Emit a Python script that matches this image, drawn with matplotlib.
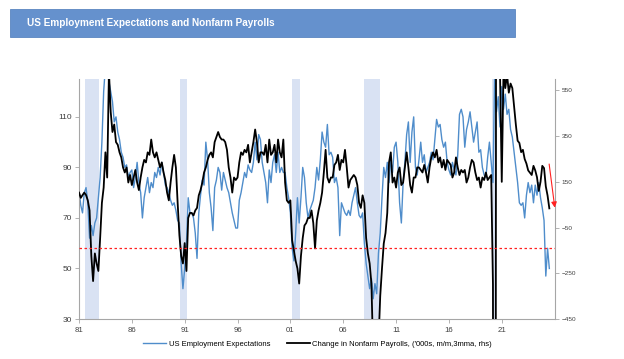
import matplotlib
matplotlib.use('Agg')
import matplotlib.pyplot as plt
from matplotlib.patches import Rectangle
import numpy as np

plt.rcParams['font.family'] = ['Liberation Sans', 'DejaVu Sans']

# bi-monthly readings (Jan, Mar, May, Jul, Sep, Nov), Jan 1981 .. Jul 2025
expect = [
    81, 75, 72, 80, 82, 76,      # 81
    62, 67, 63, 68, 70, 78,
    86, 100, 120, 130, 128, 124,
    120, 116, 108, 110, 104, 101,
    96, 94, 90, 91, 86, 88,      # 85
    89, 82, 86, 92, 84, 80,
    70, 78, 82, 86, 80, 84,
    82, 88, 86, 90, 87, 92,
    88, 83, 82, 80, 77, 75,
    76, 73, 69, 68, 52, 42,      # 90
    50, 60, 78, 72, 72, 70,
    64, 54, 72, 79, 85, 83,
    100, 93, 80, 74, 65, 82,
    85, 90, 88, 81, 88, 85,
    82, 80, 76, 72, 69, 66,      # 95
    66, 77, 80, 84, 88, 86,
    91, 89, 88, 92, 100, 93,
    103, 101, 92, 88, 84, 76,
    89, 84, 92, 95, 88, 96,
    88, 90, 88, 88, 82, 78,      # 00
    72, 58, 53, 64, 78, 68,
    78, 90, 86, 76, 70, 73,
    75, 77, 82, 90, 85, 93,
    104, 100, 98, 107, 95, 96,
    94, 84, 86, 82, 63, 76,      # 05
    74, 72, 71, 73, 71, 76,
    79, 82, 76, 71, 70, 72,
    60, 52, 47, 42, 46, 38,
    44, 40, 56, 64, 78, 90,
    86, 92, 84, 93, 88, 98,      # 10
    100, 92, 76, 68, 84, 92,
    103, 108, 92, 104, 110, 90,
    87, 93, 100, 92, 95, 88,
    90, 92, 96, 93, 101, 109,
    106, 107, 101, 98, 100, 92,  # 15
    89, 87, 92, 89, 87, 95,
    111, 113, 110, 98, 105, 108,
    112, 106, 100, 104, 108, 96,
    97, 90, 87, 86, 94, 100,
    92, 84, 128, 112, 118, 106,  # 20
    122, 113, 119, 111, 113, 105,
    102, 96, 90, 84, 76, 75,
    76, 70, 79, 84, 80, 83,
    76, 83, 79, 84, 78, 74,
    69, 47, 58, 50,              # 25
]

payrolls = [
    103, 80, 92, 103, 92, 69,            # 81
    25, -174, -284, -163, -207, -240,
    -96, 58, 125, 279, 169, 633,
    456, 368, 401, 324, 312, 279,
    257, 213, 191, 213, 147, 180,        # 85
    136, 169, 202, 147, 114, 169,
    213, 246, 235, 279, 268, 335,
    279, 257, 279, 246, 213, 235,
    191, 158, 103, 69, 147, 213,
    268, 213, 58, -84, -174, -207,       # 90
    -118, -240, -8, 14, 14, 3,
    25, 36, 91, 114, 147, 191,
    213, 246, 268, 279, 257, 324,
    346, 368, 346, 335, 335, 324,
    290, 213, 169, 103, 169, 158,        # 95
    169, 235, 279, 268, 290, 279,
    312, 235, 279, 324, 379, 324,
    235, 279, 279, 268, 312, 235,
    335, 268, 279, 312, 235, 335,
    279, 257, 335, 147, 69, 58,          # 00
    69, -106, -152, -196, -229, -295,
    -174, -96, -41, -30, -8, -8,
    25, -30, -141, -19, 25, 58,
    103, 191, 290, 169, 147, 169,
    169, 224, 235, 268, 202, 246,        # 05
    235, 290, 213, 125, 158, 169,
    180, 169, 136, 58, 36, 91,
    58, -96, -163, -207, -295, -600,
    -720, -760, -560, -350, -229, -120,
    -74, 14, 235, 279, 147, 169,         # 10
    125, 191, 213, 136, 147, 213,
    279, 213, 136, 103, 169, 169,
    213, 213, 202, 191, 224, 191,
    147, 213, 257, 279, 257, 290,
    235, 257, 213, 246, 202, 246,        # 15
    235, 224, 169, 191, 257, 213,
    180, 202, 191, 202, 147, 169,
    213, 246, 235, 191, 158, 169,
    125, 169, 158, 191, 158, 169,
    180, -300, -6300, 3100, 1340, 630,   # 20
    150, 640, 560, 620, 540, 580,
    560, 480, 400, 330, 320, 280,
    290, 250, 230, 200, 190, 180,
    220, 200, 170, 110, 150, 220,
    210, 130, 90, 34,                    # 25
]

recessions = [(1981.55, 1982.92), (1990.55, 1991.25), (2001.2, 2001.9),
              (2007.95, 2009.48), (2020.1, 2020.35)]
year_ticks = [1981, 1986, 1991, 1996, 2001, 2006, 2011, 2016, 2021]
year_labels = ['81', '86', '91', '96', '01', '06', '11', '16', '21']
left_ticks = [30, 50, 70, 90, 110]
right_ticks = [-450, -250, -50, 150, 350, 550]
threshold = 58.3

t = 1981 + np.arange(len(expect)) / 6.0

fig = plt.figure(figsize=(6.24, 3.59), dpi=100)

# title bar
fig.patches.append(Rectangle((0.016, 0.898), 0.809, 0.0763, transform=fig.transFigure,
                             facecolor='#6591CD', edgecolor='#5A86C0', lw=0.6))
fig.text(0.044, 0.936, 'US Employment Expectations and Nonfarm Payrolls',
         color='white', fontsize=7.2, fontweight='bold', va='center')

ax1 = fig.add_axes([0.1266, 0.1114, 0.7622, 0.6686])
ax2 = ax1.twinx()

for a, b in recessions:
    ax1.axvspan(a, b, color='#D9E2F3', lw=0, zorder=0)
l1, = ax1.plot(t, expect, color='#4F8DCB', lw=1.0, zorder=2,
               label='US Employment Expectations')
l2, = ax2.plot(t, payrolls, color='black', lw=1.3,
               label="Change in Nonfarm Payrolls, ('000s, m/m,3mma, rhs)")
ax2.axhline((threshold - 30) * 1050 / 95 - 450, color='#FF2020', lw=0.9,
            ls=(0, (2, 2)), zorder=5)

ax1.set_xlim(1981, 2026)
ax1.set_ylim(30, 125)
ax2.set_ylim(-450, 600)
ax1.set_xticks(year_ticks)
ax1.set_xticklabels(year_labels)
ax1.set_yticks(left_ticks)
ax2.set_yticks(right_ticks)

for s in ['top', 'right']:
    ax1.spines[s].set_visible(False)
for s in ['top', 'left', 'bottom']:
    ax2.spines[s].set_visible(False)
for s in [ax1.spines['left'], ax1.spines['bottom'], ax2.spines['right']]:
    s.set_color('#A6A6A6')
    s.set_linewidth(0.8)

ax1.tick_params(axis='both', length=3, width=0.6, color='#A6A6A6',
                labelcolor='#404040', pad=2)
ax1.tick_params(axis='y', labelsize=6)
ax1.tick_params(axis='x', labelsize=5.6, pad=3)
ax2.tick_params(axis='y', length=3, width=0.6, color='#A6A6A6',
                labelcolor='#404040', labelsize=4.6, pad=2)

# red arrow at the end of the payroll line
ax2.annotate('', xy=(2026.05, 25), xytext=(2025.45, 240),
             arrowprops=dict(arrowstyle='-|>', color='#FF2020', lw=0.8,
                             mutation_scale=8),
             annotation_clip=False)

fig.legend([l1, l2], [l1.get_label(), l2.get_label()], loc='center',
           bbox_to_anchor=(0.509, 0.042), ncol=2, frameon=False, fontsize=5.5,
           handlelength=3.0, handletextpad=0.3, columnspacing=2.2)

fig.savefig('out.png', dpi=100)
